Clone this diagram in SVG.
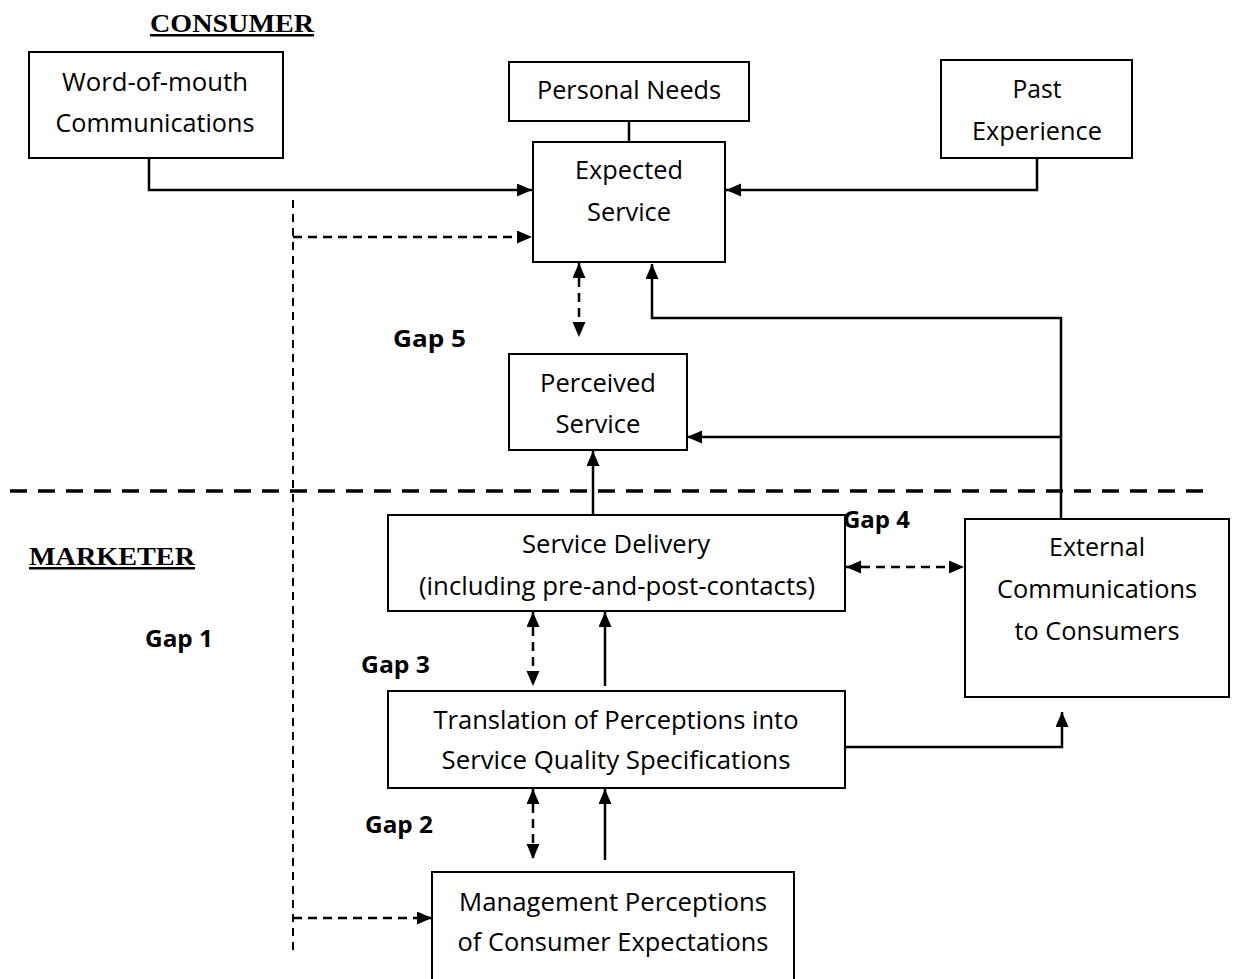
<svg xmlns="http://www.w3.org/2000/svg" width="1235" height="979" viewBox="0 0 1235 979">
<style>
.box{fill:#fff;stroke:#000;stroke-width:2}
.t{font-family:"Open Sans","Liberation Sans",sans-serif;font-size:25px;fill:#000;text-anchor:middle}
.g{font-family:"Open Sans","Liberation Sans",sans-serif;font-size:24px;font-weight:bold;fill:#000}
.h{font-family:"Liberation Serif",serif;font-size:25px;font-weight:bold;fill:#000;text-decoration:underline}
.c{fill:none;stroke:#000;stroke-width:2.5}
.d{fill:none;stroke:#000;stroke-width:2.5;stroke-dasharray:9,6}
.sep{fill:none;stroke:#000;stroke-width:3.5;stroke-dasharray:17,11}
</style>
<defs>
<marker id="ah" markerUnits="userSpaceOnUse" markerWidth="16" markerHeight="14" refX="15" refY="6.5" orient="auto-start-reverse">
<path d="M0,0 L15,6.5 L0,13 z" fill="#000"/>
</marker>
</defs>

<text class="h" x="150" y="32" textLength="164" lengthAdjust="spacingAndGlyphs">CONSUMER</text>
<text class="h" x="29" y="565" textLength="166" lengthAdjust="spacingAndGlyphs">MARKETER</text>

<g id="connectors">
<path class="c" d="M149,158 V190 H532" marker-end="url(#ah)"/>
<path class="c" d="M629,121 V142"/>
<path class="c" d="M1037,158 V190 H726" marker-end="url(#ah)"/>
<path class="d" d="M293,200 V955" style="stroke-width:2;stroke-dasharray:8,6"/>
<path class="d" d="M293,237 H532" marker-end="url(#ah)"/>
<path class="d" d="M293,918 H432" marker-end="url(#ah)"/>
<path class="d" d="M579,263 V337" marker-start="url(#ah)" marker-end="url(#ah)"/>
<path class="c" d="M1061,519 V318 H652 V264" marker-end="url(#ah)"/>
<path class="c" d="M1061,437 H687" marker-end="url(#ah)"/>
<path class="c" d="M593,515 V451" marker-end="url(#ah)"/>
<path class="d" d="M846,567 H964" marker-start="url(#ah)" marker-end="url(#ah)"/>
<path class="d" d="M533,612 V686" marker-start="url(#ah)" marker-end="url(#ah)"/>
<path class="c" d="M605,686 V612" marker-end="url(#ah)"/>
<path class="c" d="M845,747 H1062 V712" marker-end="url(#ah)"/>
<path class="d" d="M533,789 V859" marker-start="url(#ah)" marker-end="url(#ah)"/>
<path class="c" d="M605,860 V789" marker-end="url(#ah)"/>
<path class="sep" d="M10,491 H1205"/>
</g>

<g id="wom">
<rect class="box" x="29" y="52" width="254" height="106"/>
<text class="t" x="155" y="91" textLength="186" lengthAdjust="spacingAndGlyphs">Word-of-mouth</text>
<text class="t" x="155" y="132" textLength="199" lengthAdjust="spacingAndGlyphs">Communications</text>
</g>

<g id="personal">
<rect class="box" x="509" y="62" width="240" height="59"/>
<text class="t" x="629" y="99" textLength="184" lengthAdjust="spacingAndGlyphs">Personal Needs</text>
</g>

<g id="past">
<rect class="box" x="941" y="60" width="191" height="98"/>
<text class="t" x="1037" y="98" textLength="49" lengthAdjust="spacingAndGlyphs">Past</text>
<text class="t" x="1037" y="140" textLength="130" lengthAdjust="spacingAndGlyphs">Experience</text>
</g>

<g id="expected">
<rect class="box" x="533" y="142" width="192" height="120"/>
<text class="t" x="629" y="179" textLength="108" lengthAdjust="spacingAndGlyphs">Expected</text>
<text class="t" x="629" y="221" textLength="84" lengthAdjust="spacingAndGlyphs">Service</text>
</g>

<g id="perceived">
<rect class="box" x="509" y="354" width="178" height="96"/>
<text class="t" x="598" y="392" textLength="116" lengthAdjust="spacingAndGlyphs">Perceived</text>
<text class="t" x="598" y="433" textLength="85" lengthAdjust="spacingAndGlyphs">Service</text>
</g>

<g id="delivery">
<rect class="box" x="388" y="515" width="457" height="96"/>
<text class="t" x="616" y="553" textLength="188" lengthAdjust="spacingAndGlyphs">Service Delivery</text>
<text class="t" x="617" y="595" textLength="396" lengthAdjust="spacingAndGlyphs">(including pre-and-post-contacts)</text>
</g>

<g id="external">
<rect class="box" x="965" y="519" width="264" height="178"/>
<text class="t" x="1097" y="556" textLength="96" lengthAdjust="spacingAndGlyphs">External</text>
<text class="t" x="1097" y="598" textLength="200" lengthAdjust="spacingAndGlyphs">Communications</text>
<text class="t" x="1097" y="640" textLength="165" lengthAdjust="spacingAndGlyphs">to Consumers</text>
</g>

<g id="translation">
<rect class="box" x="388" y="691" width="457" height="97"/>
<text class="t" x="616" y="729" textLength="365" lengthAdjust="spacingAndGlyphs">Translation of Perceptions into</text>
<text class="t" x="616" y="769" textLength="349" lengthAdjust="spacingAndGlyphs">Service Quality Specifications</text>
</g>

<g id="management">
<rect class="box" x="432" y="872" width="362" height="120"/>
<text class="t" x="613" y="911" textLength="308" lengthAdjust="spacingAndGlyphs">Management Perceptions</text>
<text class="t" x="613" y="951" textLength="311" lengthAdjust="spacingAndGlyphs">of Consumer Expectations</text>
</g>

<g id="gaps">
<text class="g" x="393" y="347" textLength="73" lengthAdjust="spacingAndGlyphs">Gap 5</text>
<text class="g" x="843" y="528" textLength="67" lengthAdjust="spacingAndGlyphs">Gap 4</text>
<text class="g" x="145" y="647" textLength="68" lengthAdjust="spacingAndGlyphs">Gap 1</text>
<text class="g" x="361" y="673" textLength="69" lengthAdjust="spacingAndGlyphs">Gap 3</text>
<text class="g" x="365" y="833" textLength="68" lengthAdjust="spacingAndGlyphs">Gap 2</text>
</g>
</svg>
